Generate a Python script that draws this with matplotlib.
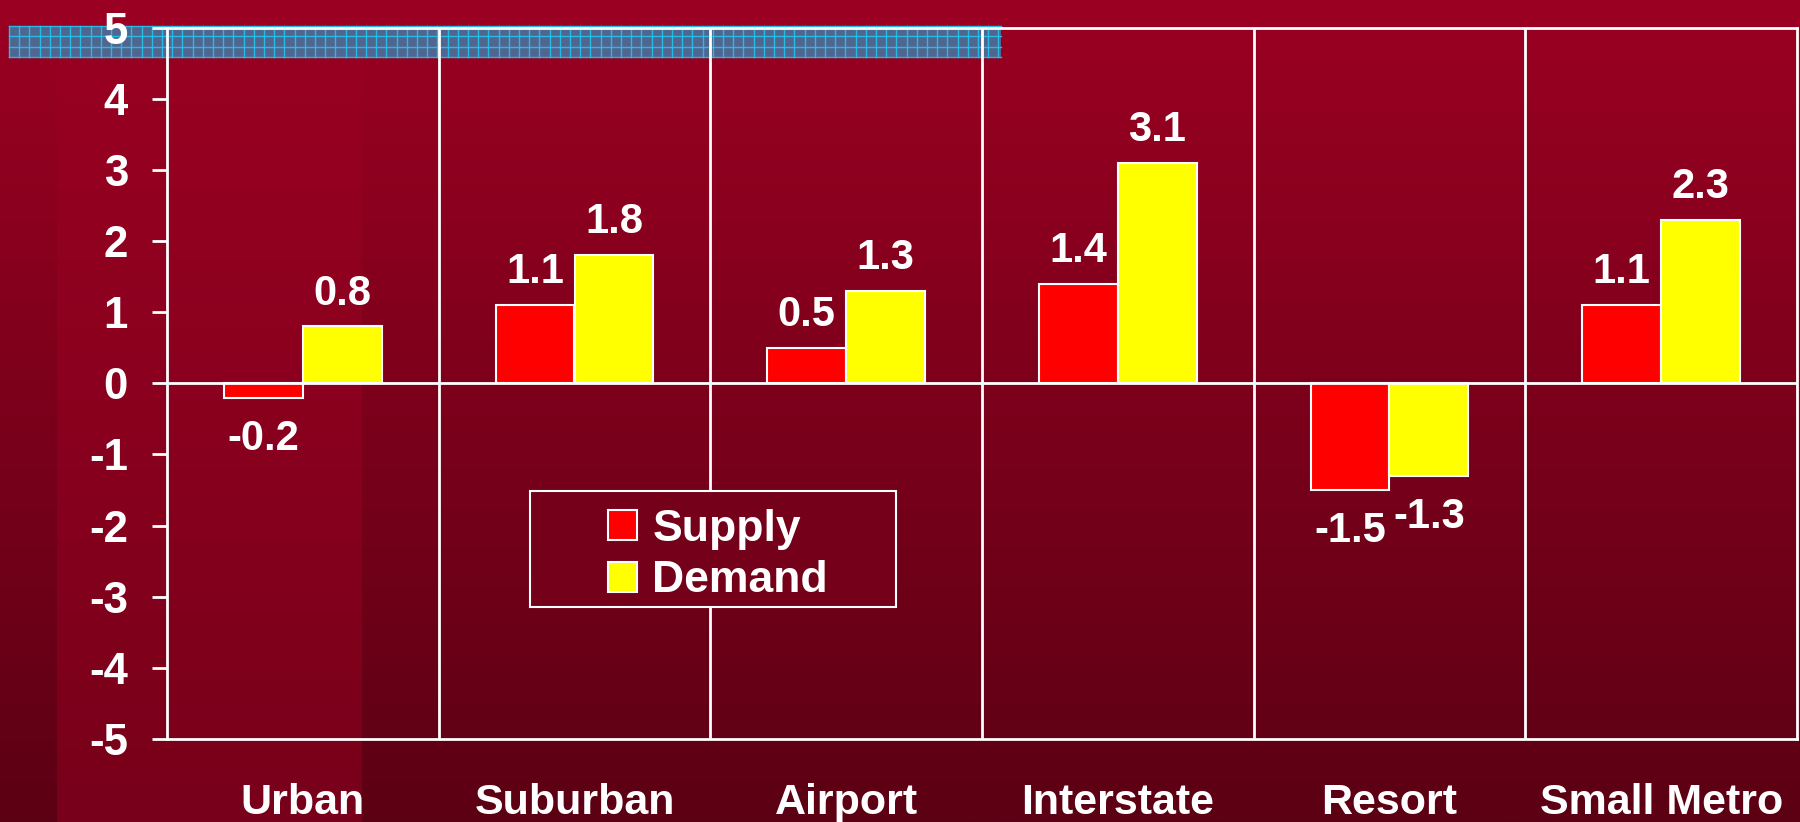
import numpy as np
import matplotlib
matplotlib.use("Agg")
import matplotlib.pyplot as plt
from matplotlib.patches import Rectangle

plt.rcParams['font.family'] = ['Liberation Sans', 'DejaVu Sans']
plt.rcParams['font.weight'] = 'bold'
plt.rcParams['axes.unicode_minus'] = False

# ---- data ----
categories = ["Urban", "Suburban", "Airport", "Interstate", "Resort", "Small Metro"]
supply = [-0.2, 1.1, 0.5, 1.4, -1.5, 1.1]
demand = [0.8, 1.8, 1.3, 3.1, -1.3, 2.3]
yticks = [-5, -4, -3, -2, -1, 0, 1, 2, 3, 4, 5]
series_names = ["Supply", "Demand"]
series_colors = ["#ff0000", "#ffff00"]

W, H = 1800, 822
fig = plt.figure(figsize=(W / 100, H / 100), dpi=100)

# ---- background ----
bg = fig.add_axes([0, 0, 1, 1], zorder=-10)
bg.axis('off')
t = np.linspace(0, 1, 256)[:, None, None]
top = np.array([155, 0, 34]) / 255
bot = np.array([92, 0, 20]) / 255
bot_strip = np.array([120, 0, 26]) / 255
main_grad = top + (bot - top) * t
strip_grad = top + (bot_strip - top) * t
bg.imshow(main_grad, extent=[0, W, H, 0], aspect='auto', interpolation='bilinear')
bg.imshow(strip_grad, extent=[57, 362, H, 0], aspect='auto', interpolation='bilinear')
bg.set_xlim(0, W)
bg.set_ylim(H, 0)

# blue hatched band at the top
bx0, bx1, by0, by1 = 9, 1001, 26, 57.5
bg.add_patch(Rectangle((bx0, by0), bx1 - bx0, by1 - by0, facecolor="#50668f", edgecolor='none'))
for gx in np.arange(bx0, bx1 + 0.1, 10.2):
    bg.plot([gx, gx], [by0, by1], color="#22c4f0", lw=1.0, alpha=0.9)
for gy in np.arange(by0, by1 + 0.1, 10.4):
    bg.plot([bx0, bx1], [gy, gy], color="#22c4f0", lw=1.0, alpha=0.9)

# ---- main axes ----
L, R, T, B = 167, 1797, 27.7, 739
ax = fig.add_axes([L / W, 1 - B / H, (R - L) / W, (B - T) / H])
ax.set_facecolor('none')

x = np.arange(len(categories))
bw = 0.29
bars_s = ax.bar(x - bw / 2, supply, bw, color=series_colors[0], edgecolor='white',
                linewidth=1.5, label=series_names[0], zorder=3)
bars_d = ax.bar(x + bw / 2, demand, bw, color=series_colors[1], edgecolor='white',
                linewidth=1.5, label=series_names[1], zorder=3)

for bars, vals in ((bars_s, supply), (bars_d, demand)):
    for b, v in zip(bars, vals):
        off = 15.8 if v >= 0 else -37.4
        ax.annotate(f"{v:.1f}", (b.get_x() + b.get_width() / 2, v),
                    xytext=(0, off), textcoords='offset points',
                    ha='center', va='baseline', color='white',
                    fontsize=30, fontweight='bold', zorder=5)

ax.set_xlim(-0.5, len(categories) - 0.5)
ax.set_ylim(-5, 5)
ax.set_yticks(yticks)
ax.set_yticklabels([str(v) for v in yticks])
ax.set_xticks(x)
ax.set_xticklabels(categories)

# separators and zero line
for k in range(1, len(categories)):
    ax.axvline(k - 0.5, color='white', lw=2, zorder=2)
ax.axhline(0, color='white', lw=2, zorder=4)

for s in ax.spines.values():
    s.set_color('white')
    s.set_linewidth(2)

ax.tick_params(axis='y', direction='out', length=10.8, width=2, color='white',
               pad=17.3, labelsize=31.5, labelcolor='white')
ax.tick_params(axis='x', length=0, pad=31.5, labelsize=31, labelcolor='white')
for lab in ax.get_xticklabels() + ax.get_yticklabels():
    lab.set_fontweight('bold')

# legend frame (covers separator) + legend entries
lx0, lx1, ly0, ly1 = 530, 896, 491, 607
frame = Rectangle(((lx0 - L) / (R - L), (B - ly1) / (B - T)),
                  (lx1 - lx0) / (R - L), (ly1 - ly0) / (B - T),
                  transform=ax.transAxes, facecolor="#740019", edgecolor='white',
                  linewidth=1.5, zorder=6)
ax.add_patch(frame)
leg = ax.legend(loc='center', bbox_to_anchor=((718 - L) / (R - L), (B - 555) / (B - T)),
                frameon=False, handlelength=0.66, handleheight=0.66,
                handletextpad=0.34, labelspacing=0.24, borderpad=0, borderaxespad=0,
                prop={'weight': 'bold', 'size': 32})
leg.set_zorder(7)
for txt in leg.get_texts():
    txt.set_color('white')

fig.savefig("out.png", dpi=100)
